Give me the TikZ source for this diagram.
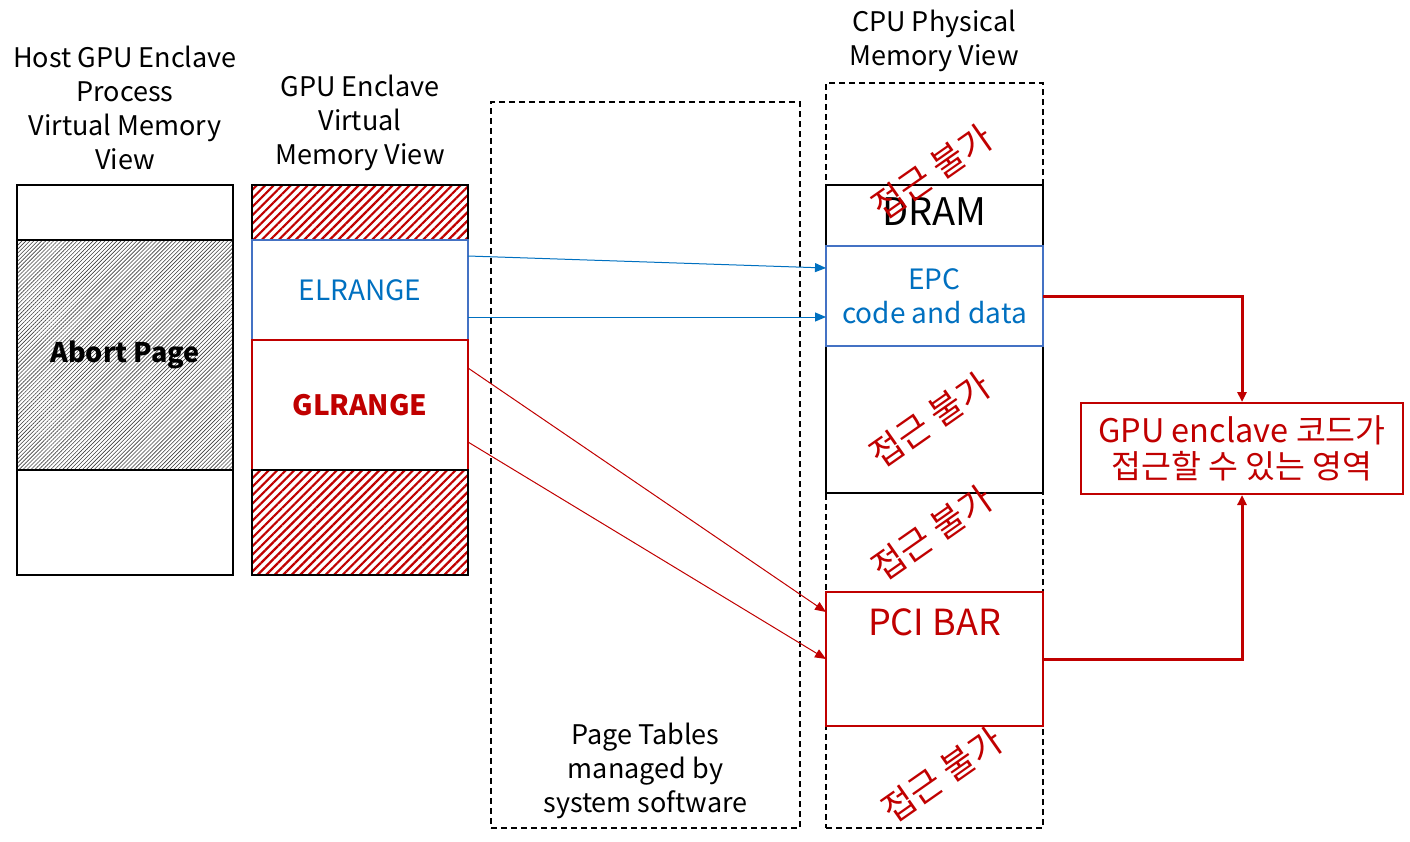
\documentclass[tikz,border=0pt]{standalone}
\usepackage{fontspec}
\setmainfont{Noto Sans CJK KR}
\usepackage{xcolor}
\usetikzlibrary{arrows.meta, positioning, patterns.meta}

\definecolor{darkred}{HTML}{C00000}
\definecolor{epcblue}{HTML}{4472C4}
\definecolor{txtblue}{HTML}{0070C0}

\begin{document}
\begin{tikzpicture}[
x=1pt, y=-1pt,
cell/.style={rectangle, draw, line width=2pt, inner sep=0pt, outer sep=0pt, minimum width=216pt},
redhatch/.style={pattern={Lines[angle=45, distance=6pt, line width=2.2pt]}, pattern color=darkred},
grayhatch/.style={pattern={Lines[angle=45, distance=2.8pt, line width=0.6pt]}, pattern color=black!75},
dashbox/.style={rectangle, draw, dashed, line width=1.6pt, inner sep=0pt, dash pattern=on 6pt off 4pt},
title/.style={align=center, font=\fontsize{27}{34}\selectfont},
noaccess/.style={text=darkred, rotate=35, font=\fontsize{35}{38}\selectfont},
bluearrow/.style={-{Triangle[length=11pt, width=9pt]}, txtblue, line width=1pt},
redarrow/.style={-{Triangle[length=11pt, width=9pt]}, darkred, line width=1pt},
thickarrow/.style={-{Triangle[length=10pt, width=9pt]}, darkred, line width=3pt}
]
\useasboundingbox (0,0) rectangle (1410,841);

% titles
\node[title] (hosttitle) at (125,108) {Host GPU Enclave\\Process\\Virtual Memory\\View};
\node[title] (gputitle) at (360,123) {GPU Enclave\\Virtual\\Memory View};
\node[title] (cputitle) at (934,41) {CPU Physical\\Memory View};

% host process view
\node[cell, minimum height=55pt] (hosttop) at (125,212.5) {};
\node[cell, grayhatch, minimum height=230pt, below=0pt of hosttop, font=\fontsize{27}{30}\selectfont\bfseries] (abort) {Abort Page};
\node[cell, minimum height=105pt, below=0pt of abort] (hostbot) {};

% gpu enclave view
\node[cell, redhatch, minimum height=55pt] (gtop) at (360,212.5) {};
\node[cell, draw=epcblue, text=txtblue, minimum height=100pt, below=0pt of gtop, font=\fontsize{28}{30}\selectfont] (elr) {ELRANGE};
\node[cell, draw=darkred, text=darkred, minimum height=130pt, below=0pt of elr, font=\fontsize{28}{30}\selectfont\bfseries] (glr) {GLRANGE};
\node[cell, redhatch, minimum height=105pt, below=0pt of glr] (gbot) {};

% page tables
\node[dashbox, minimum width=309pt, minimum height=726pt] (pt) at (645.5,465) {};
\node[title] (ptlabel) at (645.5,771) {Page Tables\\managed by\\system software};

% cpu physical view
\node[dashbox, minimum width=217pt, minimum height=745pt] (cpu) at (934.5,455.5) {};
\node[cell, fill=white, minimum width=217pt, minimum height=308pt] (dram) at (934.5,339) {};
\node[font=\fontsize{38}{40}\selectfont] (dramlabel) at (934.5,212) {DRAM};
\node[cell, draw=epcblue, fill=white, text=txtblue, minimum width=217pt, minimum height=100pt, align=center, font=\fontsize{28}{34}\selectfont] (epc) at (934.5,296) {EPC\\code and data};
\node[cell, draw=darkred, fill=white, minimum width=217pt, minimum height=134pt] (pci) at (934.5,659) {};
\node[text=darkred, font=\fontsize{36}{38}\selectfont] (pcilabel) at (934.5,622) {PCI BAR};

\node[noaccess] (na1) at (932,172) {접근 불가};
\node[noaccess] (na2) at (930,420) {접근 불가};
\node[noaccess] (na3) at (932,533) {접근 불가};
\node[noaccess] (na4) at (942,775) {접근 불가};

% accessible region
\node[rectangle, draw=darkred, line width=2pt, text=darkred, minimum width=322pt, minimum height=91pt, align=center, font=\fontsize{32.5}{36}\selectfont] (acc) at (1242,448.5) {GPU enclave 코드가\\접근할 수 있는 영역};

% mappings
\draw[bluearrow] ([yshift=-16pt]elr.north east) -- ([yshift=-22pt]epc.north west);
\draw[bluearrow] ([yshift=-77pt]elr.north east) -- ([yshift=-71pt]epc.north west);
\draw[redarrow] ([yshift=-28pt]glr.north east) -- ([yshift=-20pt]pci.north west);
\draw[redarrow] ([yshift=-102pt]glr.north east) -- (pci.west);

\draw[thickarrow] (epc.east) -| (acc.north);
\draw[thickarrow] (pci.east) -| (acc.south);

\end{tikzpicture}
\end{document}
